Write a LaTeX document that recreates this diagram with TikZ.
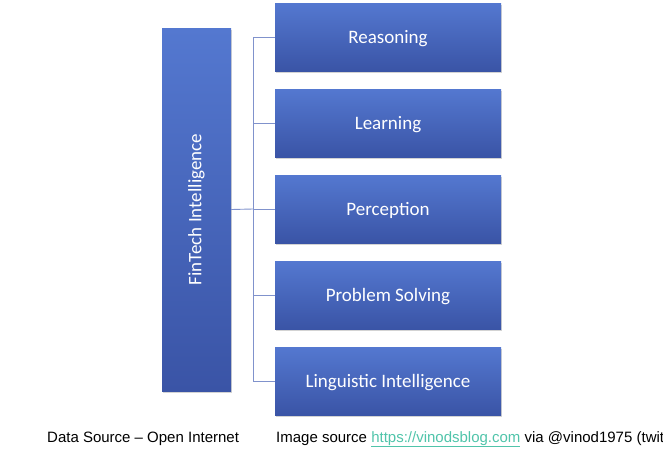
\documentclass[tikz,border=0pt]{standalone}
\usepackage{fontspec}
\setmainfont{Carlito}
\newfontfamily\notefont{Liberation Sans}
\usepackage{tikz}
\usetikzlibrary{shadows}

\definecolor{boxtop}{RGB}{84,120,208}
\definecolor{boxbottom}{RGB}{58,84,166}
\definecolor{linkline}{RGB}{128,146,204}
\definecolor{urlcolor}{RGB}{80,196,170}

\begin{document}
\begin{tikzpicture}[
    x=1pt, y=-1pt,
    topic/.style={rectangle, top color=boxtop, bottom color=boxbottom, draw=none,
        text=white, font=\fontsize{19}{23}\selectfont, inner sep=0pt,
        drop shadow={shadow xshift=1pt, shadow yshift=-1.5pt, opacity=0.35}},
    branch/.style={topic, minimum width=226pt, minimum height=68pt, text depth=0pt},
    link/.style={draw=linkline, line width=0.9pt},
    note/.style={font=\notefont\fontsize{15}{18}\selectfont, anchor=base west, inner sep=0pt}
]
\useasboundingbox (0,0) rectangle (663,450);

% Define root
\node[topic, minimum width=69pt, minimum height=363pt] (root) at (196.5,209.5) {};
\node[rotate=90, text=white, font=\fontsize{19}{23}\selectfont] (rootlabel) at (root.center) {FinTech Intelligence};

% Define branches
\node[branch] (b1) at (388,37) {Reasoning};
\node[branch] (b2) at (388,123) {Learning};
\node[branch] (b3) at (388,209) {Perception};
\node[branch] (b4) at (388,295) {Problem Solving};
\node[branch] (b5) at (388,381) {Linguistic Intelligence};

% Define connectors
\coordinate (trunk) at (253,209);
\path[link] (root.east) -- (trunk);
\foreach \i in {1,...,5}
    \path[link] (trunk) |- (b\i.west);

% Sources
\node[note] (data) at (47,442) {Data Source – Open Internet};
\node[note] (image) at (276,442) {Image source \textcolor{urlcolor}{\underline{https://vinodsblog.com}} via @vinod1975 (twit};

\end{tikzpicture}
\end{document}
